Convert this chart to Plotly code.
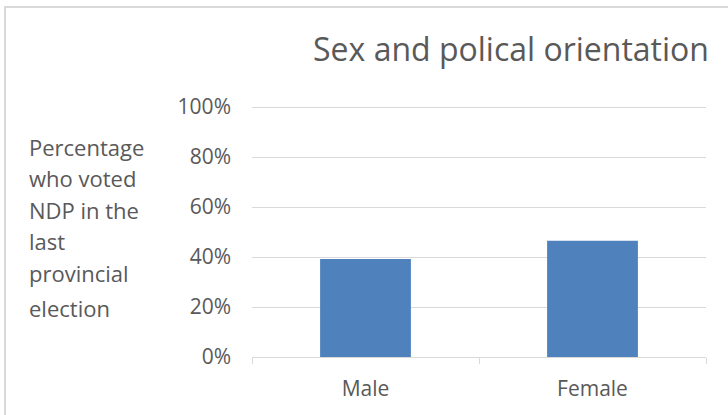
import plotly.graph_objects as go

categories = ["Male", "Female"]
values = [39.2, 46.5]
y_ticks = [0, 20, 40, 60, 80, 100]
y_tick_labels = ["0%", "20%", "40%", "60%", "80%", "100%"]
title_text = "Sex and polical orientation"
ytitle_lines = ["Percentage", "who voted", "NDP in the", "last", "provincial", "election"]

W, H = 728, 415
L, R, T, B = 252, 706, 102, 357
pw, ph = R - L, B - T
YMAX = 102

def px_x(X):
    return (X - L) / pw

def px_y(Y):
    return (B - Y) / ph

FONT = "Open Sans"
TXT = "#595959"
GRID = "#d9d9d9"

fig = go.Figure(go.Bar(x=categories, y=values, marker=dict(color="#4f81bd", line=dict(width=0)),
                       hoverinfo="skip"))

fig.update_layout(
    width=W, height=H,
    margin=dict(l=L, r=W - R, t=T, b=H - B, pad=0),
    paper_bgcolor="white", plot_bgcolor="white",
    bargap=0.6,
    showlegend=False,
    title=dict(text=title_text, x=511 / W, xanchor="center", xref="container",
               y=1 - 50 / H, yref="container", yanchor="middle",
               font=dict(family=FONT, size=32, color=TXT)),
    font=dict(family=FONT, color=TXT),
)

fig.update_yaxes(range=[0, YMAX], tickvals=y_ticks, ticktext=y_tick_labels,
                 showgrid=True, gridcolor=GRID, gridwidth=1, zeroline=False,
                 showline=False, ticks="", ticklabelstandoff=20,
                 tickfont=dict(family=FONT, size=21, color=TXT))
fig.update_xaxes(showgrid=False, showline=True, linecolor=GRID, linewidth=1,
                 ticks="outside", ticklen=6, tickcolor=GRID, tickwidth=1,
                 tickson="boundaries", ticklabelstandoff=13,
                 tickfont=dict(family=FONT, size=21, color=TXT))

line_ys = [147, 178, 210, 241, 273, 308]
for txt, yy in zip(ytitle_lines, line_ys):
    fig.add_annotation(text=txt, xref="paper", yref="paper", x=px_x(27), y=px_y(yy),
                       xanchor="left", yanchor="middle", showarrow=False,
                       font=dict(family=FONT, size=22, color=TXT))

# chart area border (top and left)
fig.add_shape(type="line", xref="paper", yref="paper", x0=px_x(5), x1=px_x(5),
              y0=px_y(420), y1=px_y(7), line=dict(color=GRID, width=2))
fig.add_shape(type="line", xref="paper", yref="paper", x0=px_x(4), x1=px_x(735),
              y0=px_y(7), y1=px_y(7), line=dict(color=GRID, width=2))

fig.write_html("out.html")
